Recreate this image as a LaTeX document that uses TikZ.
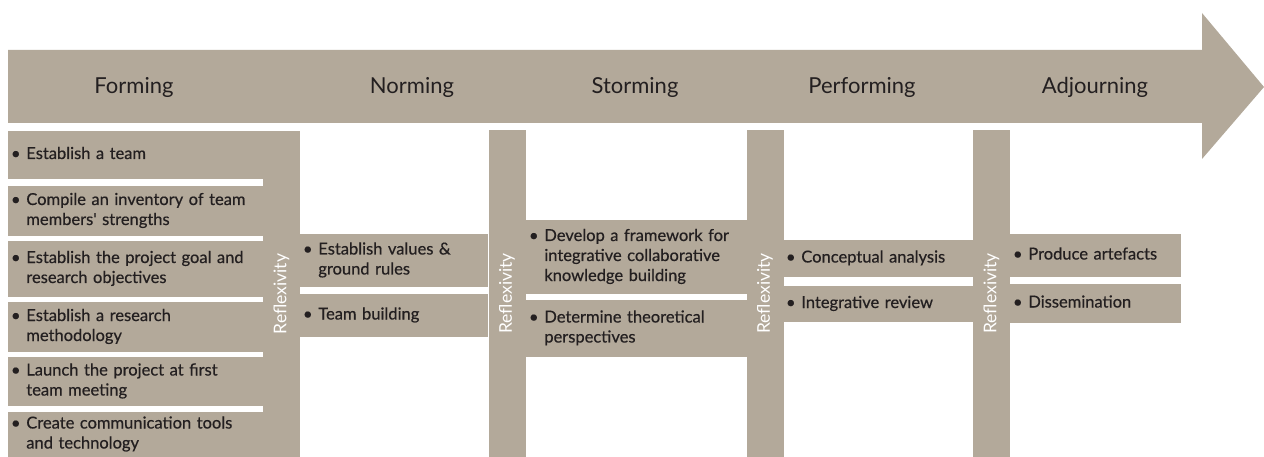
\documentclass[tikz,border=0pt]{standalone}
\usepackage{fontspec}
\setmainfont{Lato}
\newfontfamily\taskfont[FakeBold=0.5]{Lato}
\definecolor{stone}{RGB}{179,169,154}
\definecolor{ink}{RGB}{35,31,32}
\newcommand{\itm}[1]{\textbullet\hspace{0.35em}\begin{tabular}[t]{@{}l@{}}#1\end{tabular}}

\begin{document}
\begin{tikzpicture}[x=1pt, y=-1pt,
    every node/.style={inner sep=0pt, outer sep=0pt},
    stage/.style={font=\fontsize{22}{26}\selectfont, text=ink},
    task/.style={fill=stone, anchor=north west, inner xsep=3pt, align=left,
      font=\taskfont\fontsize{16.5}{20}\selectfont, text=ink},
    refl/.style={fill=stone, rotate=90, minimum height=37pt,
      font=\fontsize{17.5}{20}\selectfont, text=white}]
  \useasboundingbox (0,0) rectangle (1264,457);
  % timeline arrow
  \fill[stone] (8,50) -- (1202,50) -- (1202,13) -- (1264,87) -- (1202,159)
    -- (1202,123) -- (8,123) -- cycle;
  \node[stage] (forming) at (134,87) {Forming};
  \node[stage] (norming) at (412,87) {Norming};
  \node[stage] (storming) at (635,87) {Storming};
  \node[stage] (performing) at (862,87) {Performing};
  \node[stage] (adjourning) at (1095,87) {Adjourning};
  % reflexivity bars
  \node[refl, minimum width=326pt] (r1) at (281.5,294) {Reflexivity};
  \node[refl, minimum width=327pt] (r2) at (507,293.5) {Reflexivity};
  \node[refl, minimum width=327pt] (r3) at (765,293.5) {Reflexivity};
  \node[refl, minimum width=327pt] (r4) at (991.5,293.5) {Reflexivity};
  % forming
  \node[task, text width=249pt, minimum height=48pt] (f1) at (8,131) {\itm{Establish a team}};
  \node[task, text width=249pt, minimum height=50pt] (f2) at (8,186) {\itm{Compile an inventory of team\\members' strengths}};
  \node[task, text width=249pt, minimum height=56pt] (f3) at (8,241) {\itm{Establish the project goal and\\research objectives}};
  \node[task, text width=249pt, minimum height=50pt] (f4) at (8,302) {\itm{Establish a research\\methodology}};
  \node[task, text width=249pt, minimum height=49pt] (f5) at (8,357) {\itm{Launch the project at first\\team meeting}};
  \node[task, text width=249pt, minimum height=45pt] (f6) at (8,412) {\itm{Create communication tools\\and technology}};
  % norming
  \node[task, text width=182pt, minimum height=53pt] (n1) at (300,234) {\itm{Establish values \&\\ground rules}};
  \node[task, text width=182pt, minimum height=43pt] (n2) at (300,294) {\itm{Team building}};
  % storming
  \node[task, text width=215pt, minimum height=74pt] (s1) at (526,220) {\itm{Develop a framework for\\integrative collaborative\\knowledge building}};
  \node[task, text width=215pt, minimum height=57pt] (s2) at (526,300) {\itm{Determine theoretical\\perspectives}};
  % performing
  \node[task, text width=184pt, minimum height=37pt] (p1) at (783,240) {\itm{Conceptual analysis}};
  \node[task, text width=184pt, minimum height=36pt] (p2) at (783,286) {\itm{Integrative review}};
  % adjourning
  \node[task, text width=165pt, minimum height=43pt] (a1) at (1010,234) {\itm{Produce artefacts}};
  \node[task, text width=165pt, minimum height=39pt] (a2) at (1010,284) {\itm{Dissemination}};
\end{tikzpicture}
\end{document}
